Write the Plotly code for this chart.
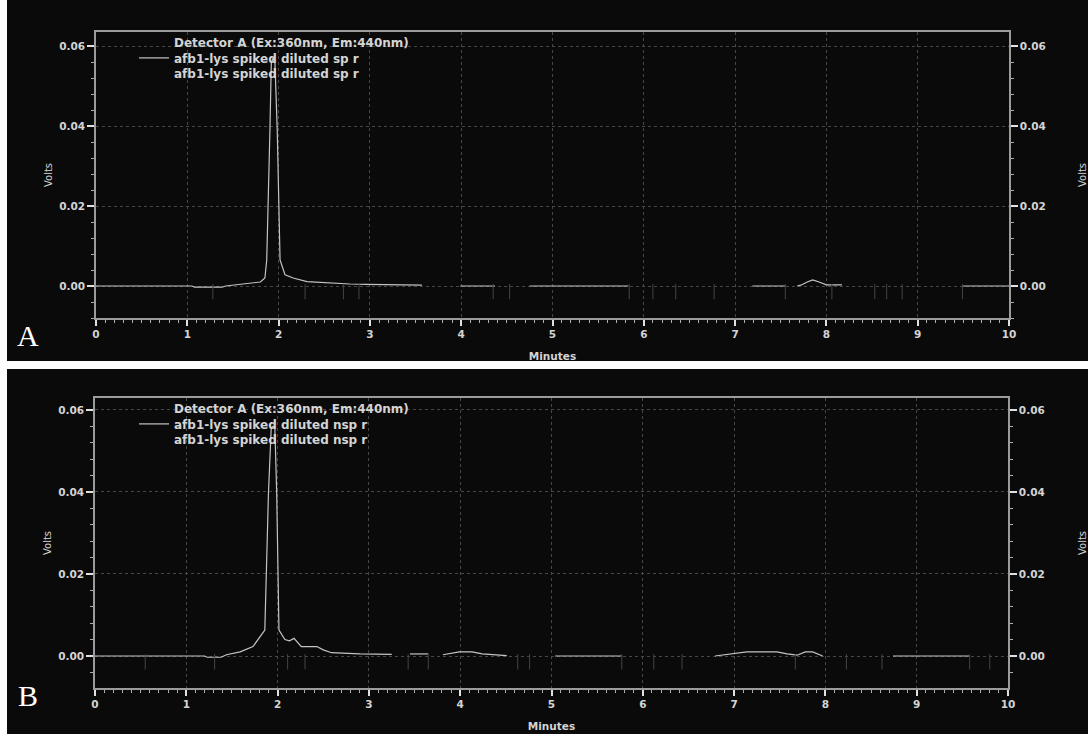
import plotly.graph_objects as go

W, H = 1088, 734

# ---------------- data ----------------
# Panel A trace (minutes, volts); None marks a break in the drawn trace
time_a = [0.0, 1.05, 1.08, 1.38, 1.42, 1.5, 1.72, 1.80, 1.85, 1.87, 1.905, 1.92, 1.94, 1.96, 1.985,
          2.016, 2.07, 2.16, 2.31, 2.6, 2.78, 2.96, 3.3, 3.57, None,
          3.99, 4.37, None,
          4.75, 5.83, None,
          7.19, 7.55, None,
          7.68, 7.72, 7.79, 7.85, 7.92, 8.0, 8.17, None,
          9.49, 10.0]
volts_a = [0.0, 0.0, -0.0003, -0.0003, 0.0, 0.0002, 0.0007, 0.0010, 0.0020, 0.0065, 0.039, 0.0557, 0.057, 0.0557, 0.039,
           0.0065, 0.0028, 0.0020, 0.0011, 0.0007, 0.0005, 0.0004, 0.0003, 0.0002, None,
           0.0, 0.0, None,
           0.0, 0.0, None,
           0.0, 0.0, None,
           0.0, 0.0002, 0.0010, 0.0015, 0.0010, 0.0003, 0.0003, None,
           0.0, 0.0]

# Panel B trace
time_b = [0.0, 1.2, 1.23, 1.38, 1.44, 1.59, 1.73, 1.86, 1.90, 1.93, 1.95, 1.97, 1.99, 2.015,
          2.08, 2.13, 2.18, 2.26, 2.43, 2.5, 2.59, 2.9, 3.25, None,
          3.45, 3.65, None,
          3.81, 3.99, 4.13, 4.24, 4.51, None,
          5.04, 5.77, None,
          6.79, 6.99, 7.14, 7.47, 7.58, 7.69, 7.78, 7.86, 7.97, None,
          8.74, 9.58]
volts_b = [0.0, 0.0, -0.0003, -0.0003, 0.0003, 0.0010, 0.0023, 0.0063, 0.0398, 0.0556, 0.0560, 0.0556, 0.0398, 0.0063,
           0.0040, 0.0037, 0.0043, 0.0023, 0.0023, 0.0015, 0.0008, 0.0005, 0.0004, None,
           0.0005, 0.0005, None,
           0.0003, 0.0010, 0.0010, 0.0005, 0.0001, None,
           0.0, 0.0, None,
           0.0, 0.0005, 0.0010, 0.0010, 0.0005, 0.0002, 0.0010, 0.0010, 0.0, None,
           0.0, 0.0]

# integration event markers (minutes)
events_a = [1.28, 2.29, 2.71, 2.88, 4.35, 4.53, 5.84, 6.10, 6.35, 6.77, 7.55, 8.06, 8.53, 8.66, 8.83, 9.49]
events_b = [0.55, 1.31, 2.11, 2.30, 3.43, 3.65, 4.63, 4.76, 5.77, 6.12, 6.43, 7.67, 8.23, 8.62, 9.58, 9.80]
EVENT_LEVEL = -0.0014

x_ticks = list(range(0, 11))
y_ticks = [0.0, 0.02, 0.04, 0.06]
legend_header = "Detector A (Ex:360nm, Em:440nm)"
sample_a = "afb1-lys spiked diluted sp r"
sample_b = "afb1-lys spiked diluted nsp r"
panel_labels = ["A", "B"]
x_title = "Minutes"
y_title = "Volts"

# ---------------- styling ----------------
BG = "#0a0a0a"
TXT = "#d4d4d4"
TRACE = "#c4c4c4"
FONT = "DejaVu Sans"


def px_x(p):
    return p / W


def px_y(p):
    return 1 - p / H


fig = go.Figure()

fig.add_trace(go.Scatter(x=time_a, y=volts_a, mode="lines", xaxis="x", yaxis="y",
                         line=dict(color=TRACE, width=1.2), connectgaps=False,
                         name=legend_header + "<br>" + sample_a + "<br>" + sample_a,
                         legend="legend", showlegend=True, hoverinfo="skip"))
fig.add_trace(go.Scatter(x=events_a, y=[EVENT_LEVEL] * len(events_a), mode="markers",
                         xaxis="x", yaxis="y3", showlegend=False, hoverinfo="skip",
                         marker=dict(symbol="line-ns", size=11, line=dict(color="#444444", width=1))))

fig.add_trace(go.Scatter(x=time_b, y=volts_b, mode="lines", xaxis="x2", yaxis="y2",
                         line=dict(color=TRACE, width=1.2), connectgaps=False,
                         name=legend_header + "<br>" + sample_b + "<br>" + sample_b,
                         legend="legend2", showlegend=True, hoverinfo="skip"))
fig.add_trace(go.Scatter(x=events_b, y=[EVENT_LEVEL] * len(events_b), mode="markers",
                         xaxis="x2", yaxis="y4", showlegend=False, hoverinfo="skip",
                         marker=dict(symbol="line-ns", size=11, line=dict(color="#444444", width=1))))

tick_font = dict(family=FONT, size=10.5, color=TXT, weight="bold")
title_font = dict(family=FONT, size=10.5, color=TXT, weight="bold")
GRID = "#474747"


def xaxis_style(domain, anchor):
    return dict(domain=domain, anchor=anchor, range=[0, 10], tickvals=x_ticks, automargin=False,
                showline=True, linecolor="#9c9c9c", linewidth=1.5, mirror=True,
                ticks="outside", ticklen=6, tickwidth=2, tickcolor="#e0e0e0",
                tickfont=tick_font, showgrid=True, gridcolor=GRID, griddash="dot", gridwidth=1,
                zeroline=False,
                minor=dict(dtick=0.1, tick0=0, ticks="outside", ticklen=3, tickwidth=1,
                           tickcolor="#b0b0b0", showgrid=False),
                title=dict(text=x_title, font=title_font, standoff=13))


def yaxis_style(domain, anchor, rng, side, overlay=None, standoff=5):
    d = dict(domain=domain, anchor=anchor, range=rng, tickvals=y_ticks, tickformat=".2f",
             side=side, showline=True, linecolor="#9c9c9c", linewidth=1.5, automargin=False,
             ticks="outside", ticklen=7, tickwidth=1.5, tickcolor="#e0e0e0",
             tickfont=tick_font, zeroline=False,
             minor=dict(dtick=0.004, tick0=0, ticks="outside", ticklen=3, tickwidth=1,
                        tickcolor="#b0b0b0", showgrid=False))
    if overlay is None:
        d.update(showgrid=True, gridcolor=GRID, griddash="dot", gridwidth=1)
    else:
        d.update(overlaying=overlay, showgrid=False)
    d["title"] = dict(text=y_title, font=dict(family=FONT, size=10, color=TXT), standoff=standoff)
    return d


xa_dom = [px_x(96), px_x(1009)]
xb_dom = [px_x(95), px_x(1008)]
ya_dom = [px_y(318), px_y(32)]
yb_dom = [px_y(688), px_y(398)]
ya_rng = [-0.008, 0.0635]
yb_rng = [-0.0078, 0.0629]

legend_style = dict(bgcolor="rgba(0,0,0,0)", borderwidth=0, valign="middle",
                    font=dict(family=FONT, size=12, color=TXT, weight="bold"),
                    xanchor="left", yanchor="top", itemclick=False, itemdoubleclick=False)

fig.update_layout(
    width=W, height=H, autosize=False,
    margin=dict(l=0, r=0, t=0, b=0, autoexpand=False),
    paper_bgcolor="white", plot_bgcolor=BG,
    xaxis=xaxis_style(xa_dom, "y"),
    yaxis=yaxis_style(ya_dom, "x", ya_rng, "left", standoff=5),
    yaxis3=yaxis_style(ya_dom, "x", ya_rng, "right", overlay="y", standoff=50),
    xaxis2=xaxis_style(xb_dom, "y2"),
    yaxis2=yaxis_style(yb_dom, "x2", yb_rng, "left", standoff=5),
    yaxis4=yaxis_style(yb_dom, "x2", yb_rng, "right", overlay="y2", standoff=50),
    legend=dict(x=px_x(134), y=px_y(28), **legend_style),
    legend2=dict(x=px_x(134), y=px_y(394), **legend_style),
    shapes=[
        dict(type="rect", xref="paper", yref="paper", x0=px_x(7), x1=1.01, y0=px_y(361), y1=1.01,
             fillcolor=BG, line=dict(width=0), layer="below"),
        dict(type="rect", xref="paper", yref="paper", x0=px_x(7), x1=1.01, y0=-0.01, y1=px_y(369),
             fillcolor=BG, line=dict(width=0), layer="below"),
    ],
    annotations=[
        dict(text=panel_labels[0], xref="paper", yref="paper", x=px_x(28), y=px_y(335),
             xanchor="center", yanchor="middle", showarrow=False,
             font=dict(family="Liberation Serif", size=30, color="white")),
        dict(text=panel_labels[1], xref="paper", yref="paper", x=px_x(28), y=px_y(695),
             xanchor="center", yanchor="middle", showarrow=False,
             font=dict(family="Liberation Serif", size=30, color="white")),
    ],
)

fig.write_html("out.html")
